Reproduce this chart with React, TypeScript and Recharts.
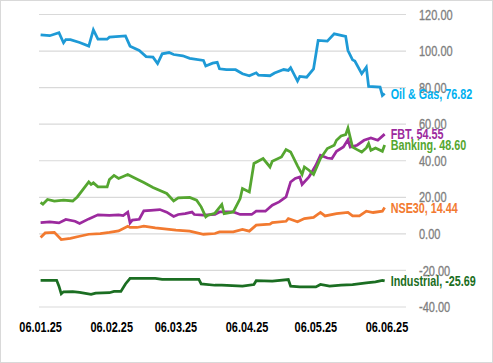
import React from "react";
import { LineChart, Line, XAxis, YAxis, CartesianGrid, LabelList } from "recharts";

// x values are calendar days counted from 06.01.25
const tickDays = [0, 31, 59, 90, 120, 151];
const tickLabels = ["06.01.25", "06.02.25", "06.03.25", "06.04.25", "06.05.25", "06.06.25"];
const yTicks = [-40, -20, 0, 20, 40, 60, 80, 100, 120];

const oilDays = [0, 4, 8, 10, 11, 13, 17, 21, 23, 25, 29, 30, 37, 39, 43, 46, 49, 51, 53, 56, 58, 62, 65, 71, 72, 75, 77, 78, 81, 85, 88, 91, 94, 95, 100, 102, 106, 108, 109, 112, 113, 116, 119, 121, 125, 128, 133, 134, 136, 137, 140, 142, 143, 148, 149, 150];
const oilValues = [108.9, 108.4, 110, 104.5, 106.3, 106.2, 104.7, 102.7, 111.6, 106.5, 106.5, 107.6, 108.3, 102.7, 100.3, 97, 96.7, 93.2, 98.5, 99.2, 98.1, 97.4, 96, 94.9, 91.8, 93.4, 93.8, 90.3, 89.8, 89.8, 87.6, 86.5, 88.1, 86.8, 86.5, 88, 89.9, 89.4, 90.9, 83.6, 86.1, 85.7, 90.3, 105.8, 105.4, 109.4, 108, 100.3, 95.2, 94.5, 87.6, 91.2, 80.7, 80.3, 75.7, 76.82];

const fbtDays = [0, 4, 8, 11, 15, 17, 21, 25, 30, 34, 36, 38, 39, 40, 43, 45, 48, 52, 55, 58, 60, 63, 66, 67, 71, 76, 78, 84, 87, 92, 94, 98, 101, 104, 107, 109, 111, 113, 114, 117, 120, 122, 125, 127, 129, 132, 134, 135, 138, 141, 144, 147, 150];
const fbtValues = [6.2, 6.6, 6, 7.9, 6.9, 5.7, 8.2, 10.4, 10.1, 10.4, 10, 11.9, 6, 7.5, 8, 12.6, 12.9, 13.3, 11.9, 9.5, 10.6, 11.1, 11.9, 10.6, 10.2, 10.6, 12, 12, 10.6, 10.6, 12.4, 12.4, 15.7, 17.5, 20.2, 28.4, 30.3, 31.1, 27, 31.1, 37.5, 43, 41.5, 41.2, 45.2, 47.5, 51.5, 47.5, 48.5, 51.2, 52.5, 51.2, 54.55];

const bankingDays = [0, 1, 3, 6, 10, 14, 16, 21, 22, 23, 25, 29, 30, 32, 34, 38, 41, 45, 49, 55, 58, 60, 65, 68, 70, 72, 73, 76, 79, 80, 84, 87, 88, 91, 93, 97, 100, 101, 105, 107, 109, 112, 114, 115, 117, 119, 122, 125, 128, 129, 131, 133, 134, 136, 138, 140, 142, 143, 144, 146, 149, 150];
const bankingValues = [17.2, 16.2, 18.8, 17.9, 18.4, 18, 20.2, 28.4, 27, 27.9, 25.7, 25.7, 29.7, 32, 30.3, 32.5, 30.6, 28.1, 25.4, 22.1, 18, 19.7, 19.9, 18.4, 14.8, 9.3, 10.2, 11.3, 16.1, 11.1, 12, 19.3, 24.8, 22.9, 38.5, 41.2, 36.6, 39.7, 42.1, 46.1, 44.8, 37.2, 32.5, 36.6, 34.8, 32.5, 41.2, 46.7, 48.5, 51.2, 53.6, 54.3, 57.9, 47.5, 46.1, 44.8, 47, 49.4, 45.7, 47, 45.2, 48.6];

const nseDays = [0, 2, 6, 9, 13, 17, 21, 26, 30, 34, 38, 39, 42, 45, 50, 56, 59, 65, 71, 76, 78, 84, 88, 91, 94, 100, 101, 107, 108, 112, 115, 119, 122, 124, 129, 134, 136, 139, 142, 145, 149, 150];
const nseValues = [-2, 0.5, 0.8, -3.1, -2.5, -1.3, -0.2, 0.2, 0.8, 1.6, 4.2, 3.5, 3.5, 4.2, 3.3, 2.4, 2, 1.5, -0.2, 0.2, 1.1, 1.1, 2.4, 1.5, 4.8, 5.3, 6.2, 6.9, 8.4, 6.6, 8.4, 9, 11.7, 9.8, 11.1, 11.7, 9.8, 9.8, 12.4, 11.7, 12.4, 14.44];

const industrialDays = [0, 7, 8, 9, 10, 14, 17, 22, 24, 30, 32, 35, 37, 39, 50, 53, 69, 70, 76, 79, 88, 93, 94, 101, 108, 109, 113, 120, 122, 126, 131, 136, 142, 146, 149, 150];
const industrialValues = [-25.4, -25.4, -28.6, -32.8, -31.7, -31.6, -32, -33.1, -32.4, -32.2, -31.5, -31.5, -27.4, -24.3, -24.3, -24.9, -24.9, -27.4, -28.1, -28.1, -28.6, -27.7, -25.6, -25.9, -25, -28.6, -29, -29, -27.7, -28.6, -28.1, -27.7, -26.8, -26.3, -25.4, -25.69];

// no narrow font installed, so texts are squeezed horizontally
const FONT = "'Liberation Sans', Arial, sans-serif";

function toPoints(days: number[], values: number[]) {
  return days.map((day, i) => ({ day, value: values[i] }));
}

const series = [
  { name: "Oil & Gas", sep: ",", days: oilDays, values: oilValues, line: "#1e9ad6", text: "#00b0f0" },
  { name: "NSE30", sep: ",", days: nseDays, values: nseValues, line: "#f27a30", text: "#f27a30" },
  { name: "Industrial", sep: ",", days: industrialDays, values: industrialValues, line: "#1b6e22", text: "#1b6e22" },
  { name: "FBT", sep: ",", days: fbtDays, values: fbtValues, line: "#9c2a9e", text: "#9c2a9e" },
  { name: "Banking", sep: ".", days: bankingDays, values: bankingValues, line: "#55a630", text: "#55a630" },
];

// eslint-disable-next-line @typescript-eslint/no-explicit-any
function XTick({ x, y, payload }: any) {
  return (
    <text
      transform={`translate(${x},${y}) scale(0.78,1)`}
      dy="0.71em"
      textAnchor="middle"
      fill="#000"
      fontSize={14}
      fontWeight={700}
      fontFamily={FONT}
    >
      {tickLabels[tickDays.indexOf(payload.value)] ?? ""}
    </text>
  );
}

// eslint-disable-next-line @typescript-eslint/no-explicit-any
function YTick({ x, y, payload }: any) {
  return (
    <text
      transform={`translate(${x},${y}) scale(0.76,1)`}
      dy="0.355em"
      textAnchor="start"
      fill="#7f7f7f"
      stroke="#7f7f7f"
      strokeWidth={0.35}
      fontSize={14.5}
      fontFamily={FONT}
    >
      {Number(payload.value).toFixed(2)}
    </text>
  );
}

function endLabel(name: string, sep: string, color: string, lastIndex: number) {
  // eslint-disable-next-line @typescript-eslint/no-explicit-any
  return (props: any) => {
    if (props.index !== lastIndex) return null;
    return (
      <text
        transform={`translate(${Number(props.x) + 6},${Number(props.y)}) scale(0.72,1)`}
        dy="0.35em"
        fill={color}
        fontSize={15}
        fontWeight={700}
        fontFamily={FONT}
      >
        {`${name}${sep} ${Number(props.value).toFixed(2)}`}
      </text>
    );
  };
}

export default function App() {
  return (
    <div
      style={{
        position: "absolute",
        left: 0,
        top: 0,
        width: 493,
        height: 363,
        boxSizing: "border-box",
        border: "1px solid #d9d9d9",
        background: "#fff",
      }}
    >
      <LineChart
        width={491}
        height={361}
        margin={{ top: 13.5, right: 0, bottom: 23, left: 38 }}
        style={{ fontFamily: FONT }}
      >
        <CartesianGrid vertical={false} stroke="#d9d9d9" strokeWidth={1.2} />
        <XAxis
          dataKey="day"
          type="number"
          domain={[-0.7, 159.3]}
          ticks={tickDays}
          interval={0}
          axisLine={false}
          tickLine={false}
          tickSize={0}
          tickMargin={15}
          height={32}
          tick={<XTick />}
        />
        <YAxis
          orientation="right"
          type="number"
          domain={[-40, 120]}
          ticks={yTicks}
          interval={0}
          axisLine={false}
          tickLine={false}
          tickSize={0}
          tickMargin={13}
          width={86}
          tick={<YTick />}
        />
        {series.map((s) => (
          <Line
            key={s.name}
            data={toPoints(s.days, s.values)}
            dataKey="value"
            type="linear"
            stroke={s.line}
            strokeWidth={2.75}
            dot={false}
            activeDot={false}
            isAnimationActive={false}
          >
            <LabelList
              dataKey="value"
              content={endLabel(s.name, s.sep, s.text, s.days.length - 1)}
            />
          </Line>
        ))}
      </LineChart>
    </div>
  );
}
